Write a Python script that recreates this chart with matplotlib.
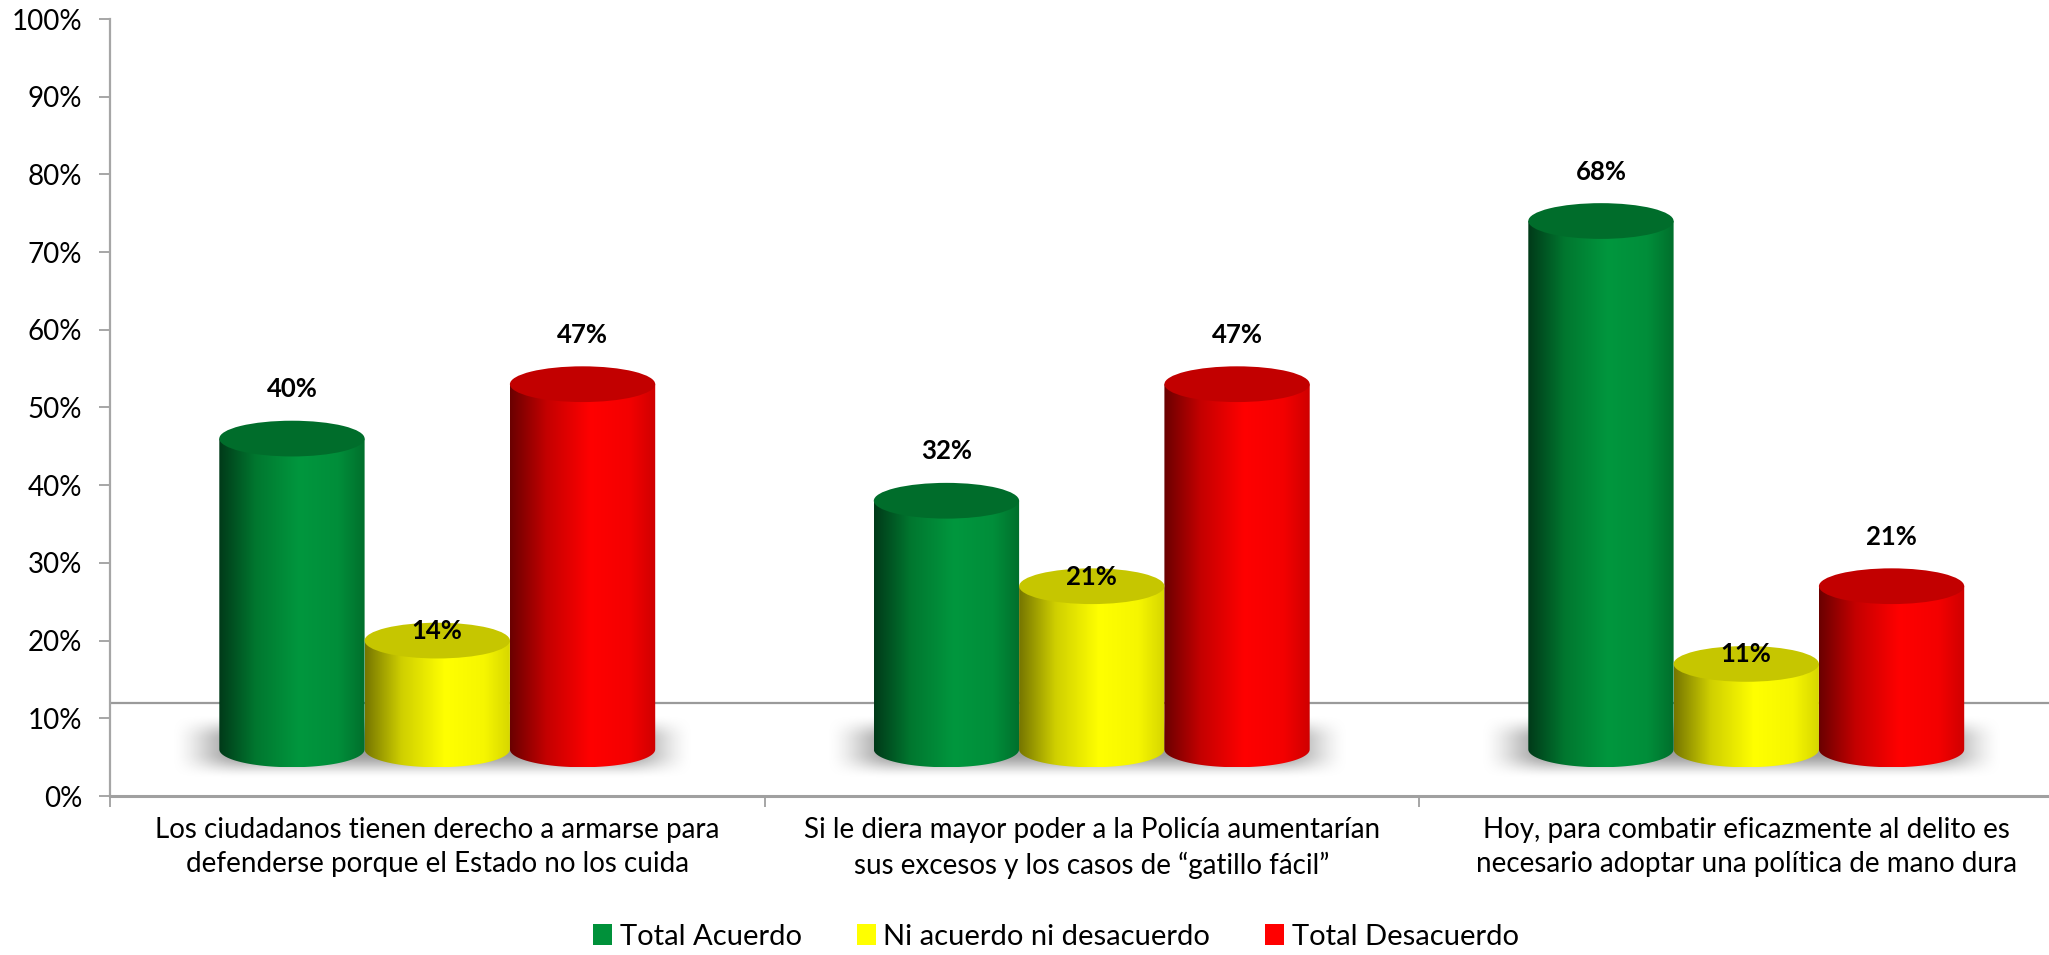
import numpy as np
import matplotlib
matplotlib.use("Agg")
import matplotlib.pyplot as plt
from matplotlib.colors import LinearSegmentedColormap
from matplotlib.patches import Ellipse, Polygon, Patch
from matplotlib.ticker import PercentFormatter

# data
categories = [
    "Los ciudadanos tienen derecho a armarse para\ndefenderse porque el Estado no los cuida",
    "Si le diera mayor poder a la Policía aumentarían\nsus excesos y los casos de \u201cgatillo fácil\u201d",
    "Hoy, para combatir eficazmente al delito es\nnecesario adoptar una política de mano dura",
]
series = ["Total Acuerdo", "Ni acuerdo ni desacuerdo", "Total Desacuerdo"]
acuerdo = [0.40, 0.32, 0.68]
ni_ni = [0.14, 0.21, 0.11]
desacuerdo = [0.47, 0.47, 0.21]
values = [acuerdo, ni_ni, desacuerdo]

# styles
legend_colors = ["#00913A", "#FFFF00", "#FF0000"]
side_stops = [
    ["#003A19", "#00772F", "#00973E", "#008E3A", "#006F2C"],
    ["#767600", "#CFCF00", "#FFFF00", "#F6F600", "#D6D600"],
    ["#6A0000", "#C40000", "#FF0000", "#F40000", "#CF0000"],
]
top_colors = ["#006D2B", "#C6C600", "#C20000"]

plt.rcParams["font.family"] = ["Lato", "DejaVu Sans"]

fig = plt.figure(figsize=(20.49, 9.55), dpi=100)
ax = fig.add_axes([110 / 2049, 159 / 955, 1 - 110 / 2049, (796 - 19) / 955])

bar_w = 0.222
base = 0.06         # bars stand in the middle of the 3D floor
cap_h = 0.046       # height of the elliptic caps
floor_back = 0.12
x = np.arange(len(categories))

# floor back edge
ax.axhline(floor_back, color="#9A9A9A", lw=1.6, zorder=1)

# soft shadow under every group
for gx in x:
    x0 = gx - 1.5 * bar_w - 0.075
    x1 = gx + 1.5 * bar_w + 0.06
    y0, y1 = 0.022, 0.105
    xs = np.linspace(0, 1, 400)
    ys = np.linspace(0, 1, 80)
    fx = np.clip(np.minimum(xs, 1 - xs) / 0.14, 0, 1)
    fy = np.clip(np.minimum(ys, 1 - ys) / 0.4, 0, 1)
    fx = fx * fx * (3 - 2 * fx)
    fy = fy * fy * (3 - 2 * fy)
    a = 0.8 * np.outer(fy, fx)
    img = np.zeros((80, 400, 4))
    img[..., :3] = 0.52
    img[..., 3] = a
    ax.imshow(img, extent=[x0, x1, y0, y1], origin="lower", aspect="auto",
              interpolation="bilinear", zorder=1.2)

# cylinders
t = np.linspace(np.pi, 2 * np.pi, 60)
for si, vals in enumerate(values):
    cmap = LinearSegmentedColormap.from_list(
        "c%d" % si, list(zip([0, 0.25, 0.55, 0.82, 1.0], side_stops[si])))
    for gi, v in enumerate(vals):
        cx = x[gi] + (si - 1) * bar_w
        left, right = cx - bar_w / 2, cx + bar_w / 2
        top = base + v
        # body with horizontal shading, clipped to rectangle + round bottom
        pts = np.column_stack([cx + bar_w / 2 * np.cos(t), base + cap_h / 2 * np.sin(t)])
        pts = np.vstack([pts, [[right, top], [left, top]]])
        clip = Polygon(pts, closed=True, transform=ax.transData)
        grad = np.linspace(0, 1, 256).reshape(1, -1)
        im = ax.imshow(grad, cmap=cmap, extent=[left, right, base - cap_h / 2, top],
                       aspect="auto", interpolation="bilinear", zorder=2)
        im.set_clip_path(clip)
        ax.add_patch(Ellipse((cx, top), bar_w, cap_h, facecolor=top_colors[si],
                             edgecolor="none", zorder=3))
        # value label
        if si == 1:
            ly = top - 0.003
        else:
            ly = top + 0.048
        ax.text(cx, ly, "{:.0f}%".format(v * 100), ha="center", va="bottom",
                fontsize=18.5, fontweight="bold", color="black", zorder=5)

# axes
ax.set_yticks(np.arange(0, 1.01, 0.1))
ax.yaxis.set_major_formatter(PercentFormatter(1.0, decimals=0))
ax.set_xticks(np.arange(-0.5, 3, 1.0))
ax.set_xticklabels([])
ax.set_xticks(x, minor=True)
ax.set_xticklabels(categories, minor=True, fontsize=20, linespacing=1.4)
ax.set_xlim(-0.5, -0.5 + (2049 - 110) / 654.5)
ax.set_ylim(0, 1.0)
ax.tick_params(axis="x", which="minor", length=0, pad=15)
ax.tick_params(axis="x", which="major", length=8, width=1.4, color="#A6A6A6")
ax.tick_params(axis="y", length=8, width=1.4, color="#A6A6A6", labelsize=20, pad=12)
for s in ["top", "right"]:
    ax.spines[s].set_visible(False)
ax.spines["left"].set_color("#A6A6A6")
ax.spines["left"].set_linewidth(1.6)
ax.spines["bottom"].set_color("#A0A0A0")
ax.spines["bottom"].set_linewidth(2.2)
ax.patch.set_alpha(0)

handles = [Patch(facecolor=c, edgecolor="none") for c in legend_colors]
fig.legend(handles, series, loc="lower center", bbox_to_anchor=(1056 / 2049, -0.022),
           ncol=3, frameon=False, fontsize=21, handlelength=0.65, handleheight=0.7,
           handletextpad=0.25, columnspacing=1.9)

fig.savefig("out.png", dpi=100)
